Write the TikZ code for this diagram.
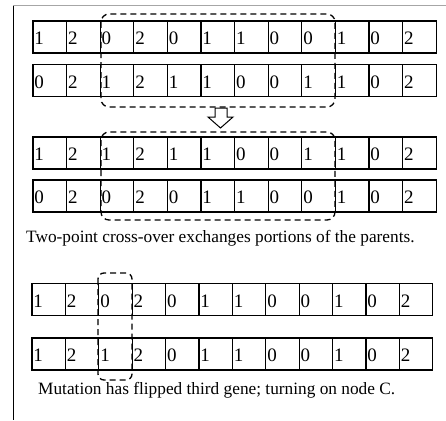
\documentclass[tikz,border=0pt]{standalone}
\usepackage{fontspec}
\setmainfont{Liberation Serif}
\tikzset{
  cell/.style={draw, line width=1.1pt, minimum height=32pt, minimum width=33.6pt, inner sep=0pt},
  digit/.style={anchor=base west, inner sep=0pt, font=\fontsize{19}{19}\selectfont},
  cutbox/.style={dashed, dash pattern=on 6pt off 4pt, line width=1.3pt, rounded corners=8pt},
  caption/.style={anchor=base west, font=\fontsize{17.3}{17.3}\selectfont, inner sep=0pt}
}
\begin{document}
\begin{tikzpicture}[x=1pt,y=1pt]
  \useasboundingbox (0,0) rectangle (446,-420);
  % frame
  \draw[gray!70, line width=1pt] (13,-6) -- (446,-6);
  \draw[line width=1pt] (13,-6) -- (13,-420);
  % parents
  \foreach \v [count=\i] in {1,2,0,2,0,1,1,0,0,1,0,2}
    \node[cell] (pa\i) at ({49.8+(\i-1)*33.6},-37) {}
      node[digit] (pa\i d) at ([xshift=1.8pt,yshift=-7.5pt]pa\i.west) {\v};
  \foreach \v [count=\i] in {0,2,1,2,1,1,0,0,1,1,0,2}
    \node[cell] (pb\i) at ({49.8+(\i-1)*33.6},-80.5) {}
      node[digit] (pb\i d) at ([xshift=1.8pt,yshift=-7.5pt]pb\i.west) {\v};
  \draw[cutbox] (101,-14) rectangle (335,-107);
  % arrow
  \draw[line width=1pt] (215,-108) -- (227,-108) -- (227,-117) -- (233,-117)
    -- (220.5,-128) -- (208,-117) -- (215,-117) -- cycle;
  % children
  \foreach \v [count=\i] in {1,2,1,2,1,1,0,0,1,1,0,2}
    \node[cell] (ca\i) at ({49.8+(\i-1)*33.6},-153) {}
      node[digit] (ca\i d) at ([xshift=1.8pt,yshift=-7.5pt]ca\i.west) {\v};
  \foreach \v [count=\i] in {0,2,0,2,0,1,1,0,0,1,0,2}
    \node[cell] (cb\i) at ({49.8+(\i-1)*33.6},-196) {}
      node[digit] (cb\i d) at ([xshift=1.8pt,yshift=-7.5pt]cb\i.west) {\v};
  \draw[cutbox] (101,-132) rectangle (335,-220);
  \node[caption] (cross) at (26,-242) {Two-point cross-over exchanges portions of the parents.};
  % mutation
  \foreach \v [count=\i] in {1,2,0,2,0,1,1,0,0,1,0,2}
    \node[cell, minimum width=33.4pt] (ma\i) at ({48.7+(\i-1)*33.4},-299.5) {}
      node[digit] (ma\i d) at ([xshift=1.8pt,yshift=-7.5pt]ma\i.west) {\v};
  \foreach \v [count=\i] in {1,2,1,2,0,1,1,0,0,1,0,2}
    \node[cell, minimum width=33.4pt] (mb\i) at ({48.7+(\i-1)*33.4},-354) {}
      node[digit] (mb\i d) at ([xshift=1.8pt,yshift=-7.5pt]mb\i.west) {\v};
  \draw[cutbox, rounded corners=6pt] (98,-273) rectangle (132,-380);
  \node[caption] (mut) at (38,-394) {Mutation has flipped third gene; turning on node C.};
\end{tikzpicture}
\end{document}
